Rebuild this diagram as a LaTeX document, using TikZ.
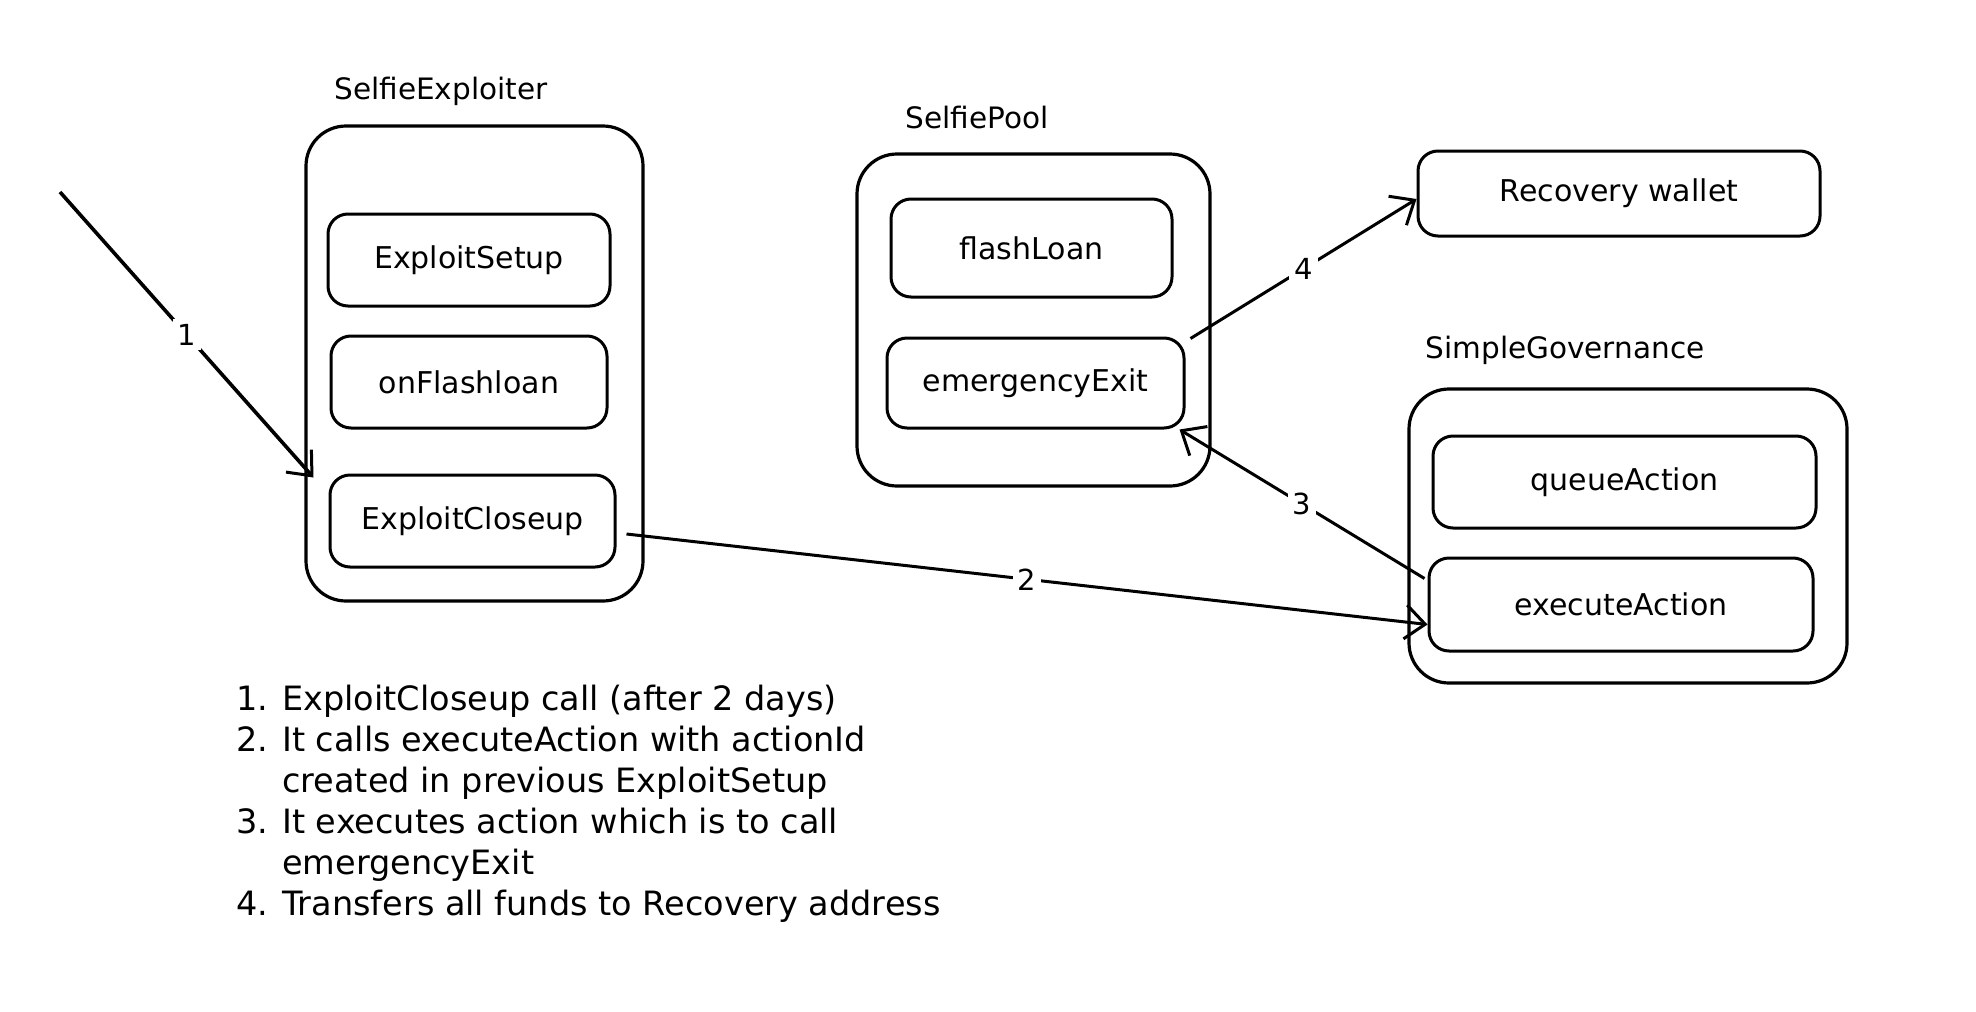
\documentclass[tikz,border=0pt]{standalone}
\usepackage{fontspec}
\setmainfont{DejaVu Sans}
\usetikzlibrary{arrows.meta}
\begin{document}
\begin{tikzpicture}[x=1pt,y=-1pt,
  outer/.style={draw, line width=3.2pt, rounded corners=40pt, inner sep=0pt},
  inner/.style={draw, line width=3pt, rounded corners=20pt, inner sep=0pt, font=\fontsize{30}{36}\selectfont},
  title/.style={font=\fontsize{29.5}{35}\selectfont},
  conn/.style={line width=3pt, -{Straight Barb[length=20pt,width=34pt,line width=3pt]}},
  lbl/.style={fill=white, inner sep=5pt, font=\fontsize{29}{35}\selectfont},
  notes/.style={align=left, inner sep=0pt, font=\fontsize{33.5}{41}\selectfont}]
\useasboundingbox[fill=white] (0,0) rectangle (1976,1012);

% SelfieExploiter
\node[title] (setitle) at (441,91) {SelfieExploiter};
\node[outer, minimum width=337pt, minimum height=475pt] (se) at (474.5,363.5) {};
\node[inner, minimum width=282pt, minimum height=92pt] (setup) at (469,260) {ExploitSetup};
\node[inner, minimum width=276pt, minimum height=92pt] (onflash) at (469,382) {onFlashloan};
\node[inner, minimum width=285pt, minimum height=92pt] (closeup) at (472.5,521) {ExploitCloseup};

% SelfiePool
\node[title] (sptitle) at (977,118) {SelfiePool};
\node[outer, minimum width=353pt, minimum height=332pt] (sp) at (1033.5,320) {};
\node[inner, minimum width=281pt, minimum height=98pt] (flash) at (1031.5,248) {flashLoan};
\node[inner, minimum width=297pt, minimum height=90pt] (emerg) at (1035.5,383) {emergencyExit};

% Recovery wallet
\node[inner, minimum width=402pt, minimum height=85pt] (recov) at (1619,193.5) {Recovery wallet};

% SimpleGovernance
\node[title] (sgtitle) at (1565,350) {SimpleGovernance};
\node[outer, minimum width=438pt, minimum height=294pt] (sg) at (1628,536) {};
\node[inner, minimum width=383pt, minimum height=92pt] (queue) at (1624.5,482) {queueAction};
\node[inner, minimum width=384pt, minimum height=93pt] (exec) at (1621,604.5) {executeAction};

% connectors
\coordinate (start) at (60,192);
\draw[conn, line width=3.6pt] (start) -- ([xshift=-15pt,yshift=-4pt]closeup.north west) node[lbl, midway] (l1) {1};
\draw[conn] ([xshift=10pt,yshift=-13pt]closeup.east) -- ([yshift=-20pt]exec.west) node[lbl, midway] (l2) {2};
\draw[conn] ([xshift=-3pt,yshift=-22pt]exec.north west) -- ([xshift=-6pt]emerg.south east) node[lbl, midway] (l3) {3};
\draw[conn] ([xshift=5pt,yshift=-2pt]emerg.north east) -- ([yshift=-5.5pt]recov.west) node[lbl, midway] (l4) {4};

% notes
\node[notes, anchor=north west] (notes) at (236,685) {%
1. ExploitCloseup call (after 2 days)\\
2. It calls executeAction with actionId\\
\phantom{2. }created in previous ExploitSetup\\
3. It executes action which is to call\\
\phantom{3. }emergencyExit\\
4. Transfers all funds to Recovery address};
\end{tikzpicture}
\end{document}
